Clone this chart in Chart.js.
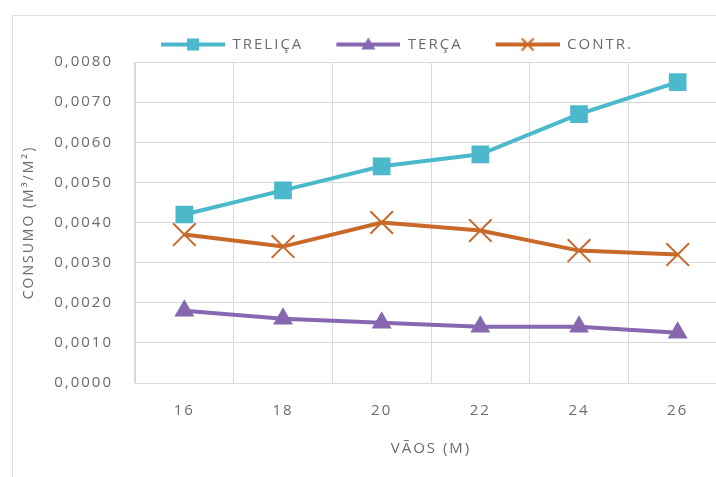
<!DOCTYPE html>
<html>
<head>
<meta charset="utf-8">
<script src="https://cdn.jsdelivr.net/npm/chart.js@4/dist/chart.umd.min.js"></script>
<style>
  html, body { margin: 0; padding: 0; background: #fff; overflow: hidden; width: 716px; height: 477px; }
  #frame { position: absolute; left: 12px; top: 15px; width: 780px; height: 470px; border-left: 1px solid #dedede; border-top: 1px solid #dedede; }
  #wrap { position: absolute; left: 0; top: 0; width: 778px; height: 477px; }
</style>
</head>
<body>
<div id="frame"></div>
<div id="wrap"><canvas id="c"></canvas></div>
<script>
// Span lengths (m) and material consumption per area (m³/m²)
const spans   = ['16', '18', '20', '22', '24', '26'];
const trelica = [0.0042, 0.0048, 0.0054, 0.0057, 0.0067, 0.0075];
const terca   = [0.0018, 0.0016, 0.0015, 0.0014, 0.0014, 0.00125];
const contr   = [0.0037, 0.0034, 0.0040, 0.0038, 0.0033, 0.0032];
const seriesNames = ['TRELIÇA', 'TERÇA', 'CONTR.'];

// Value axis range
const yMin = 0, yMax = 0.008, yStep = 0.001;

const colors = ['#4bb8cb', '#8767b0', '#c8692a'];
const textColor = '#6b6b6b';
const gridColor = '#d9d9d9';
const fontFamily = '"Open Sans", "Liberation Sans", sans-serif';

// Legend swatch: line segment with the series marker in its middle
function swatch(color, kind) {
  const c = document.createElement('canvas');
  c.width = 80; c.height = 20;
  const g = c.getContext('2d');
  g.strokeStyle = color; g.fillStyle = color; g.lineWidth = 4;
  g.beginPath(); g.moveTo(16, 10); g.lineTo(80, 10); g.stroke();
  const cx = 48, cy = 10;
  if (kind === 'rect') {
    g.fillRect(cx - 6, cy - 6, 12, 12);
  } else if (kind === 'triangle') {
    g.beginPath(); g.moveTo(cx, cy - 7); g.lineTo(cx + 7, cy + 5); g.lineTo(cx - 7, cy + 5); g.closePath(); g.fill();
  } else {
    g.lineWidth = 2;
    g.beginPath();
    g.moveTo(cx - 6, cy - 6); g.lineTo(cx + 6, cy + 6);
    g.moveTo(cx + 6, cy - 6); g.lineTo(cx - 6, cy + 6);
    g.stroke();
  }
  return c;
}
const swatches = [swatch(colors[0], 'rect'), swatch(colors[1], 'triangle'), swatch(colors[2], 'cross')];

// Slightly widened lettering for all chart text
const letterSpacing = {
  id: 'letterSpacing',
  beforeUpdate(chart) { chart.ctx.letterSpacing = '2px'; },
  beforeDraw(chart) { chart.ctx.letterSpacing = '2px'; }
};

new Chart(document.getElementById('c'), {
  type: 'line',
  data: {
    labels: spans,
    datasets: [
      { label: seriesNames[0], data: trelica, borderColor: colors[0], backgroundColor: colors[0],
        borderWidth: 4, pointStyle: 'rect', pointRadius: 12.5, pointHoverRadius: 12.5, pointBorderWidth: 0 },
      { label: seriesNames[1], data: terca, borderColor: colors[1], backgroundColor: colors[1],
        borderWidth: 4, pointStyle: 'triangle', pointRadius: 11.5, pointHoverRadius: 11.5, pointBorderWidth: 0 },
      { label: seriesNames[2], data: contr, borderColor: colors[2], backgroundColor: colors[2],
        borderWidth: 4, pointStyle: 'crossRot', pointRadius: 16, pointHoverRadius: 16, pointBorderWidth: 2 }
    ]
  },
  options: {
    responsive: true,
    maintainAspectRatio: false,
    animation: false,
    layout: { padding: { top: 15, left: 0, right: 0, bottom: 0 } },
    plugins: {
      tooltip: { enabled: false },
      legend: {
        position: 'top',
        labels: {
          usePointStyle: true,
          pointStyleWidth: 80,
          padding: 17,
          color: textColor,
          font: { family: fontFamily, size: 15 },
          generateLabels(chart) {
            const items = Chart.defaults.plugins.legend.labels.generateLabels(chart);
            items.forEach((it, i) => { it.pointStyle = swatches[i]; it.rotation = 0; });
            return items;
          }
        }
      }
    },
    scales: {
      x: {
        offset: true,
        grid: { offset: true, color: gridColor, lineWidth: 1, drawTicks: false },
        border: { color: gridColor },
        ticks: { color: textColor, padding: 19, font: { family: fontFamily, size: 15 } },
        title: { display: true, text: 'VÃOS (M)', color: textColor, padding: { top: 4, bottom: 19 },
                 font: { family: fontFamily, size: 15 } },
        afterFit(s) { s.height = 94; }
      },
      y: {
        min: yMin, max: yMax,
        grid: { color: gridColor, lineWidth: 1, drawTicks: false },
        border: { color: gridColor },
        ticks: { stepSize: yStep, color: textColor, padding: 22, font: { family: fontFamily, size: 15 },
                 callback: v => v.toFixed(4).replace('.', ',') },
        title: { display: true, text: 'CONSUMO (M³/M²)', color: textColor, padding: { top: 21, bottom: 0 },
                 font: { family: fontFamily, size: 14 } },
        // fixed axis width; keep the plot top a little below the legend
        afterFit(s) { s.width = 135; s.paddingTop = 62; }
      },
      yRight: {
        position: 'right',
        display: true,
        grid: { display: false, drawTicks: false },
        border: { display: false },
        ticks: { display: false },
        afterFit(s) { s.width = 51; }
      }
    }
  },
  plugins: [letterSpacing]
});
</script>
</body>
</html>
